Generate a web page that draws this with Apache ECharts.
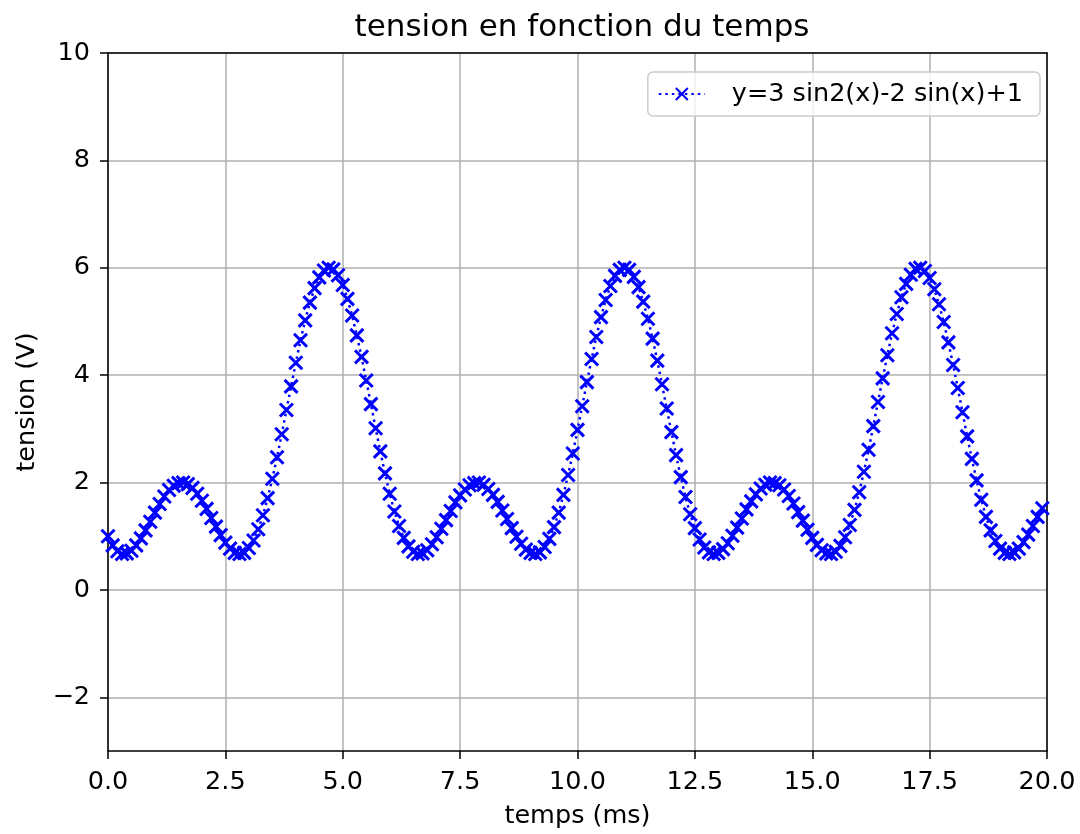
<!DOCTYPE html>
<html>
<head>
<meta charset="utf-8">
<script src="https://cdn.jsdelivr.net/npm/echarts@6/dist/echarts.min.js"></script>
<style>
html,body{margin:0;padding:0;background:#fff;}
#chart{width:1080px;height:834px;}
</style>
</head>
<body>
<div id="chart"></div>
<script>
// temps (ms)
var temps = [
0,0.1,0.2,0.3,0.4,0.5,0.6,0.7,0.8,0.9,
1,1.1,1.2,1.3,1.4,1.5,1.6,1.7,1.8,1.9,
2,2.1,2.2,2.3,2.4,2.5,2.6,2.7,2.8,2.9,
3,3.1,3.2,3.3,3.4,3.5,3.6,3.7,3.8,3.9,
4,4.1,4.2,4.3,4.4,4.5,4.6,4.7,4.8,4.9,
5,5.1,5.2,5.3,5.4,5.5,5.6,5.7,5.8,5.9,
6,6.1,6.2,6.3,6.4,6.5,6.6,6.7,6.8,6.9,
7,7.1,7.2,7.3,7.4,7.5,7.6,7.7,7.8,7.9,
8,8.1,8.2,8.3,8.4,8.5,8.6,8.7,8.8,8.9,
9,9.1,9.2,9.3,9.4,9.5,9.6,9.7,9.8,9.9,
10,10.1,10.2,10.3,10.4,10.5,10.6,10.7,10.8,10.9,
11,11.1,11.2,11.3,11.4,11.5,11.6,11.7,11.8,11.9,
12,12.1,12.2,12.3,12.4,12.5,12.6,12.7,12.8,12.9,
13,13.1,13.2,13.3,13.4,13.5,13.6,13.7,13.8,13.9,
14,14.1,14.2,14.3,14.4,14.5,14.6,14.7,14.8,14.9,
15,15.1,15.2,15.3,15.4,15.5,15.6,15.7,15.8,15.9,
16,16.1,16.2,16.3,16.4,16.5,16.6,16.7,16.8,16.9,
17,17.1,17.2,17.3,17.4,17.5,17.6,17.7,17.8,17.9,
18,18.1,18.2,18.3,18.4,18.5,18.6,18.7,18.8,18.9,
19,19.1,19.2,19.3,19.4,19.5,19.6,19.7,19.8,19.9
];
// tension (V)
var tension = [
1.00,0.83,0.72,0.67,0.68,0.73,0.83,0.96,1.11,1.27,
1.44,1.60,1.74,1.86,1.94,1.99,2.00,1.97,1.90,1.79,
1.66,1.51,1.34,1.18,1.02,0.88,0.77,0.69,0.67,0.69,
0.78,0.92,1.13,1.39,1.71,2.07,2.47,2.90,3.35,3.79,
4.23,4.65,5.02,5.35,5.62,5.82,5.95,6.00,5.97,5.86,
5.68,5.42,5.11,4.74,4.34,3.90,3.46,3.01,2.58,2.17,
1.79,1.46,1.19,
0.97,0.81,0.71,0.67,0.68,0.74,0.85,0.98,1.14,1.30,
1.47,1.63,1.76,1.87,1.95,1.99,2.00,1.96,1.88,1.77,
1.64,1.48,1.32,1.15,0.99,0.86,0.75,0.69,0.67,0.70,
0.80,0.95,1.17,1.44,1.77,2.14,2.54,2.98,3.42,3.87,
4.30,4.71,5.08,5.40,5.66,5.85,5.96,6.00,5.96,5.83,
5.64,5.37,5.05,4.68,4.27,3.83,3.38,2.94,2.51,2.10,
1.73,1.41,1.15,
0.94,0.79,0.70,0.67,0.69,0.76,0.87,1.01,1.16,1.33,
1.50,1.65,1.78,1.89,1.96,2.00,1.99,1.95,1.87,1.75,
1.61,1.45,1.29,1.12,0.97,0.84,0.74,0.68,0.67,0.71,
0.82,0.98,1.21,1.49,1.82,2.20,2.61,3.05,3.50,3.94,
4.37,4.78,5.14,5.45,5.70,5.87,5.98,6.00,5.94,5.81,
5.60,5.32,4.99,4.61,4.19,3.76,3.31,2.86,2.44,2.04,
1.68,1.36,1.11,
0.91,0.77,0.69,0.67,0.70,0.77,0.89,1.03,1.19,1.36,1.52
];
var xTicks = [0, 2.5, 5, 7.5, 10, 12.5, 15, 17.5, 20];
var yTicks = [-2, 0, 2, 4, 6, 8, 10];
var titleText = 'tension en fonction du temps';
var xName = 'temps (ms)';
var yName = 'tension (V)';
var seriesName = 'y=3 sin2(x)-2 sin(x)+1';

var pts = temps.map(function (t, i) { return [t, tension[i]]; });
var FONT = 'DejaVu Sans';
var FS = 25.5;
function minus(v) { return v < 0 ? '\u2212' + Math.abs(v) : String(v); }

var chart = echarts.init(document.getElementById('chart'), null, {renderer: 'canvas'});
chart.setOption({
  animation: false,
  backgroundColor: '#ffffff',
  textStyle: {fontFamily: FONT},
  title: {
    text: titleText,
    left: 577, top: 7, textAlign: 'center',
    textStyle: {fontFamily: FONT, fontSize: 31, fontWeight: 'normal', color: '#000'}
  },
  grid: {
    left: 108, right: 33, top: 53, bottom: 83,
    show: false, containLabel: false, outerBoundsMode: 'none'
  },
  legend: {
    right: 40, top: 72,
    padding: [9, 17, 9, 10],
    itemWidth: 46, itemHeight: 15,
    backgroundColor: 'rgba(255,255,255,0.8)',
    borderColor: '#cccccc', borderWidth: 1.5, borderRadius: 5,
    textStyle: {fontFamily: FONT, fontSize: FS, color: '#000', padding: [0, 0, 0, 22]},
    data: [seriesName]
  },
  xAxis: [{
    type: 'value', min: 0, max: 20, interval: 2.5,
    name: xName, nameLocation: 'middle', nameGap: 52,
    nameTextStyle: {fontFamily: FONT, fontSize: FS, color: '#000'},
    axisLine: {show: true, onZero: false, lineStyle: {color: '#000', width: 1.5}},
    axisTick: {show: true, inside: false, length: 8, lineStyle: {color: '#000', width: 1.5}},
    axisLabel: {
      show: true, margin: 18, fontFamily: FONT, fontSize: FS, color: '#000',
      formatter: function (v) { return Number(v).toFixed(1); }
    },
    splitLine: {show: true, lineStyle: {color: '#b0b0b0', width: 1.5}}
  }, {
    type: 'value', min: 0, max: 20, position: 'top',
    axisLine: {show: true, onZero: false, lineStyle: {color: '#000', width: 1.5}},
    axisTick: {show: false}, axisLabel: {show: false}, splitLine: {show: false}
  }],
  yAxis: [{
    type: 'value', min: -3, max: 10,
    name: yName, nameLocation: 'middle', nameGap: 68,
    nameTextStyle: {fontFamily: FONT, fontSize: FS, color: '#000'},
    axisLine: {show: true, onZero: false, lineStyle: {color: '#000', width: 1.5}},
    axisTick: {show: true, inside: false, length: 8, customValues: yTicks, lineStyle: {color: '#000', width: 1.5}},
    axisLabel: {
      show: true, margin: 18, fontFamily: FONT, fontSize: FS, color: '#000',
      customValues: yTicks, formatter: function (v) { return minus(v); }
    },
    splitLine: {show: true, lineStyle: {color: '#b0b0b0', width: 1.5}}
  }, {
    type: 'value', min: -3, max: 10, position: 'right',
    axisLine: {show: true, onZero: false, lineStyle: {color: '#000', width: 1.5}},
    axisTick: {show: false}, axisLabel: {show: false}, splitLine: {show: false}
  }],
  series: [{
    name: seriesName,
    type: 'line',
    xAxisIndex: 0, yAxisIndex: 0,
    data: pts,
    symbol: 'path://M0,0L10,10M10,0L0,10',
    symbolSize: 13,
    showAllSymbol: true,
    itemStyle: {color: '#0000ff', borderColor: '#0000ff', borderWidth: 3},
    lineStyle: {color: '#0000ff', width: 2.5, type: [2.5, 4]},
    emphasis: {disabled: true}
  }]
});
</script>
</body>
</html>
